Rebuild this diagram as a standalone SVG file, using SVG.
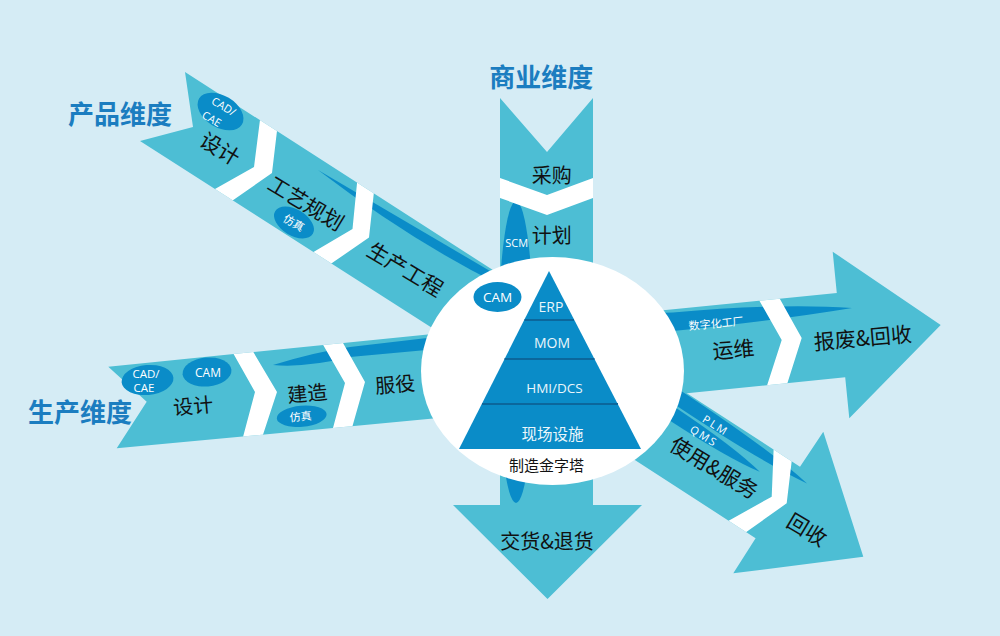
<svg xmlns="http://www.w3.org/2000/svg" width="1000" height="636" viewBox="0 0 1000 636">
<defs>
<style>
.bg{fill:#d5ecf5}
.ar{fill:#4dbed4}
.dk{fill:#0a8cc8}
.gap{fill:#ffffff}
.t{font-family:"Noto Sans CJK SC","Noto Sans",sans-serif;font-size:21px;fill:#111;text-anchor:middle;dominant-baseline:central}
.s{font-family:"Open Sans","Noto Sans CJK SC",sans-serif;font-size:11px;fill:#fff;text-anchor:middle;dominant-baseline:central}
.ti{font-family:"Noto Sans CJK SC",sans-serif;font-size:26px;font-weight:700;fill:#1b7dc0;text-anchor:middle;dominant-baseline:central}
.py{font-family:"Open Sans","Noto Sans CJK SC",sans-serif;font-size:14px;fill:#eaf6fb;text-anchor:middle;dominant-baseline:central}
.ln{stroke:#0b679c;stroke-width:2}
</style>
<polygon id="ulShape" points="185,72 510,281 440,333 140,141 193,127"/>
<polygon id="lShape" points="108.3,366.7 470,330.2 470,415.1 116.7,448.3 146.7,401.7"/>
<polygon id="vShape" points="500,98 547,152 593,98 593,505 642,505 547.5,599 453,505 500,505"/>
<polygon id="rShape" points="560,320.5 836.8,293 832.7,251.7 940.7,325 849.3,418.3 845.2,377.3 560,406"/>
<polygon id="lrShape" points="600,337.1 800,466.7 823.3,431.7 863.3,556.7 733.3,573.3 755.6,538.2 580,424.4"/>
<clipPath id="cUL"><use href="#ulShape"/></clipPath>
<clipPath id="cL"><use href="#lShape"/></clipPath>
<clipPath id="cV"><use href="#vShape"/></clipPath>
<clipPath id="cR"><use href="#rShape"/></clipPath>
<clipPath id="cLR"><use href="#lrShape"/></clipPath>
</defs>

<rect class="bg" x="0" y="0" width="1000" height="636"/>

<g id="titles">
<text class="ti" x="120" y="112.5">产品维度</text>
<text class="ti" x="541.3" y="75">商业维度</text>
<text class="ti" x="80" y="410">生产维度</text>
</g>

<g id="connectors">
<g id="arrow-product">
<use href="#ulShape" class="ar"/>
<g clip-path="url(#cUL)">
<path class="dk" d="M318,170 L490,271 L498,284 Q410,240 318,170 Z"/>
<polygon class="gap" points="262,104 279,114 272,173 216,212 199,198 254,167"/>
<polygon class="gap" points="358.6,167 375.8,175 369,237.5 314,275.5 297,261.7 352.5,229"/>
</g>
</g>

<g id="arrow-production">
<use href="#lShape" class="ar"/>
<g clip-path="url(#cL)">
<path class="dk" d="M273,365 Q315,352 350,347 L470,333 L470,346 L350,357 Q305,368 273,365 Z"/>
<polygon class="gap" points="224,337 245,338 277,392 258,450 239,452 255,392"/>
<polygon class="gap" points="314,329 334,327 365,382 348,442 329,443 345,383"/>
</g>
</g>

<g id="arrow-business">
<use href="#vShape" class="ar"/>
<g clip-path="url(#cV)">
<ellipse class="dk" cx="516" cy="352" rx="18" ry="151"/>
<polygon class="gap" points="500,178 547,195 593,178 593,198 547,215 500,198"/>
</g>
</g>

<g id="arrow-operation">
<use href="#rShape" class="ar"/>
<g clip-path="url(#cR)">
<path class="dk" d="M560,316 L673,312.5 Q780,303 852,308 Q780,320 673,331 L560,340 Z"/>
<polygon class="gap" points="751,286 771,283 801.7,338 783,397 763,398 781.7,340"/>
</g>
</g>

<g id="arrow-service">
<use href="#lrShape" class="ar"/>
<g clip-path="url(#cLR)">
<g transform="translate(686.7,393.3) rotate(33)">
<path class="dk" d="M-80,1 L0,1 Q100,2 150,10 Q100,17 0,16 L-80,16 Z"/>
<path class="dk" d="M-80,18 L0,18 Q70,19 104,26 Q70,32 0,32 L-80,32 Z"/>
</g>
<polygon class="gap" points="774,440 793.5,446 786.7,503.3 730,543.5 713,529.5 771.7,496.7"/>
</g>
</g>
</g>

<g id="labels-product">
<text class="t" x="220.7" y="147.7" transform="rotate(31 220.7 147.7)">设计</text>
<ellipse class="dk" cx="220.5" cy="111.5" rx="25" ry="16" transform="rotate(31 220.5 111.5)"/>
<text class="s" x="224" y="106" transform="rotate(31 224 106)">CAD/</text>
<text class="s" x="212" y="118.5" transform="rotate(31 212 118.5)">CAE</text>
<text class="t" x="306.7" y="202.3" transform="rotate(31 306.7 202.3)">工艺规划</text>
<ellipse class="dk" cx="294" cy="222.5" rx="22" ry="13" transform="rotate(31 294 222.5)"/>
<text class="s" x="294" y="222.5" transform="rotate(31 294 222.5)">仿真</text>
<text class="t" x="406" y="268.3" transform="rotate(31 406 268.3)">生产工程</text>
</g>

<g id="labels-production">
<ellipse class="dk" cx="147.5" cy="380" rx="26" ry="15" transform="rotate(-5 147.5 380)"/>
<text class="s" x="146" y="373" style="font-size:11.5px">CAD/</text>
<text class="s" x="144" y="387" style="font-size:11.5px">CAE</text>
<ellipse class="dk" cx="207" cy="372" rx="24.5" ry="14.5" transform="rotate(-5 207 372)"/>
<text class="s" x="208" y="372.5" style="font-size:12px">CAM</text>
<text class="t" x="193" y="404.7" style="font-size:20px" transform="rotate(-5 193 404.7)">设计</text>
<text class="t" x="307.3" y="392.3" style="font-size:20px" transform="rotate(-5 307.3 392.3)">建造</text>
<ellipse class="dk" cx="301.7" cy="416.3" rx="25" ry="10.5" transform="rotate(-5 301.7 416.3)"/>
<text class="s" x="300.5" y="416" transform="rotate(-5 300.5 416)">仿真</text>
<text class="t" x="395" y="383.3" style="font-size:20px" transform="rotate(-5 395 383.3)">服役</text>
</g>

<g id="labels-business">
<text class="t" x="551.7" y="174" style="font-size:20px">采购</text>
<text class="t" x="551.7" y="234" style="font-size:20px">计划</text>
<text class="s" x="516.7" y="242.7">SCM</text>
<text class="t" x="547" y="540" style="font-size:20px">交货&amp;退货</text>
</g>

<g id="labels-operation">
<text class="s" x="716" y="323" transform="rotate(-5.5 716 323)">数字化工厂</text>
<text class="t" x="733.3" y="348.3" transform="rotate(-5 733.3 348.3)">运维</text>
<text class="t" x="862.7" y="336.7" transform="rotate(-5 862.7 336.7)">报废&amp;回收</text>
</g>

<g id="labels-service">
<text class="s" x="716" y="425" style="letter-spacing:2px" transform="rotate(32 716 425)">PLM</text>
<text class="s" x="704.3" y="435.7" style="letter-spacing:2px" transform="rotate(32 704.3 435.7)">QMS</text>
<text class="t" x="714.7" y="466.7" transform="rotate(31 714.7 466.7)">使用&amp;服务</text>
<text class="t" x="807.7" y="528.7" transform="rotate(31 807.7 528.7)">回收</text>
</g>

<g id="pyramid">
<ellipse cx="552.5" cy="371" rx="131.5" ry="114" fill="#ffffff"/>
<ellipse class="dk" cx="497.5" cy="297" rx="24" ry="15"/>
<text class="py" x="497.5" y="297" style="font-size:13.5px;fill:#fff">CAM</text>
<polygon class="dk" points="549,271 641,449 459,449"/>
<line class="ln" x1="524.5" y1="320" x2="574" y2="320"/>
<line class="ln" x1="504.5" y1="359" x2="594.5" y2="359"/>
<line class="ln" x1="482" y1="404" x2="618" y2="404"/>
<text class="py" x="551" y="306">ERP</text>
<text class="py" x="552" y="342.5">MOM</text>
<text class="py" x="554.5" y="388.3" style="font-size:13.5px">HMI/DCS</text>
<text class="py" x="552.5" y="433.3" style="font-family:'Noto Sans CJK SC',sans-serif;font-size:15.5px">现场设施</text>
<text class="t" x="546.5" y="464.5" style="font-size:15px">制造金字塔</text>
</g>
</svg>
